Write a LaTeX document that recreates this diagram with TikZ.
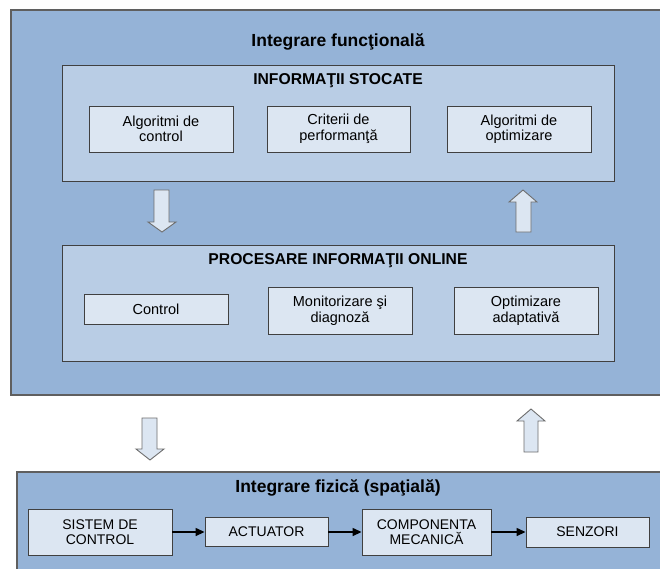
\documentclass[tikz,border=0pt]{standalone}
\usepackage{fontspec}
\setmainfont{Liberation Sans}
\usetikzlibrary{arrows.meta}
\definecolor{outerblue}{HTML}{95B3D7}
\definecolor{innerblue}{HTML}{B9CDE5}
\definecolor{paleblue}{HTML}{DCE6F2}
\definecolor{framegray}{HTML}{5F5F5F}
\definecolor{boxgray}{HTML}{404040}
\definecolor{arrowgray}{HTML}{6E6E6E}
\tikzset{
  layer/.style={draw=framegray, line width=1.2pt, fill=outerblue, rectangle, inner sep=0pt},
  group/.style={draw=boxgray, line width=1pt, fill=innerblue, rectangle, inner sep=0pt},
  item/.style={draw=boxgray, line width=0.9pt, fill=paleblue, rectangle, inner sep=0pt,
    align=center, font=\fontsize{14.5}{15.5}\selectfont},
  hwitem/.style={item, font=\fontsize{14}{15.5}\selectfont},
  heading/.style={font=\bfseries\fontsize{17.5}{20}\selectfont, inner sep=0pt},
  subheading/.style={font=\bfseries\fontsize{15.7}{18}\selectfont, inner sep=0pt},
  blockarrow/.style={draw=arrowgray, line width=0.9pt, fill=paleblue, line join=miter},
  flow/.style={draw=black, line width=1.4pt, -{Triangle[length=9pt,width=8pt]}},
}
\begin{document}
\begin{tikzpicture}[x=1pt,y=-1pt]
\useasboundingbox (0,0) rectangle (660,568);
\clip (0,0) rectangle (660,568);
\fill[white] (0,0) rectangle (660,568);

% functional integration layer
\node[layer, minimum width=654pt, minimum height=385pt] (func) at (338,202.5) {};
\node[heading] (functitle) at (338,42) {Integrare funcţională};

% stored information
\node[group, minimum width=552pt, minimum height=116pt] (stored) at (338,123) {};
\node[subheading] (storedtitle) at (338,81) {INFORMAŢII STOCATE};
\node[item, minimum width=144pt, minimum height=46pt] (algctrl) at (161,129) {Algoritmi de\\control};
\node[item, minimum width=143pt, minimum height=46pt] (perf) at (338.5,129) {Criterii de\\performanţă};
\node[item, minimum width=144pt, minimum height=46pt] (algopt) at (519,129) {Algoritmi de\\optimizare};

% online processing
\node[group, minimum width=552pt, minimum height=116pt] (online) at (338,303) {};
\node[subheading] (onlinetitle) at (338,261) {PROCESARE INFORMAŢII ONLINE};
\node[item, minimum width=144pt, minimum height=30pt] (ctrl) at (156,309) {Control};
\node[item, minimum width=144pt, minimum height=47pt] (monit) at (340,310.5) {Monitorizare şi\\diagnoză};
\node[item, minimum width=144pt, minimum height=47pt] (adapt) at (526,310.5) {Optimizare\\adaptativă};

% block arrows between the groups
\draw[blockarrow] (154,190) -- (169,190) -- (169,222) -- (176,222) -- (162,232)
  -- (148,222) -- (154,222) -- cycle;
\draw[blockarrow] (516,232) -- (531,232) -- (531,202) -- (537,202) -- (523,190)
  -- (509,202) -- (516,202) -- cycle;

% block arrows between the layers
\draw[blockarrow] (142,418) -- (157,418) -- (157,449) -- (164,449) -- (150,460)
  -- (136,449) -- (142,449) -- cycle;
\draw[blockarrow] (524,452) -- (538,452) -- (538,421) -- (545,421) -- (531,409)
  -- (517,421) -- (524,421) -- cycle;

% physical integration layer
\node[layer, minimum width=648pt, minimum height=110pt] (phys) at (341,527) {};
\node[heading] (phystitle) at (338,488) {Integrare fizică (spaţială)};
\node[hwitem, minimum width=144pt, minimum height=46pt] (sys) at (100,532) {SISTEM DE\\CONTROL};
\node[hwitem, minimum width=123pt, minimum height=29pt] (act) at (266.5,532) {ACTUATOR};
\node[hwitem, minimum width=129pt, minimum height=46pt] (mech) at (426.5,532) {COMPONENTA\\MECANICĂ};
\node[hwitem, minimum width=123pt, minimum height=30pt] (sens) at (587.5,532) {SENZORI};

\draw[flow] (sys) -- (act);
\draw[flow] (act) -- (mech);
\draw[flow] (mech) -- (sens);
\end{tikzpicture}
\end{document}
